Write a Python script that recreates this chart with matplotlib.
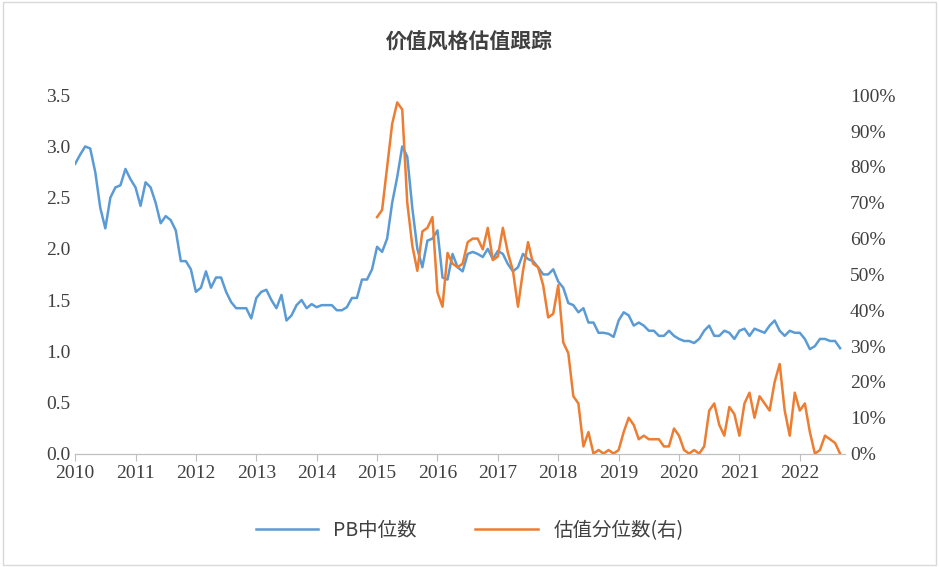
import numpy as np
import pandas as pd
import matplotlib.pyplot as plt
from matplotlib.ticker import FuncFormatter

plt.rcParams['font.family'] = ['Noto Sans CJK SC', 'Noto Sans CJK JP', 'Noto Sans CJK TC',
                               'Noto Sans CJK KR', 'DejaVu Sans']

pb = [2.83, 2.92, 3.0, 2.98, 2.75, 2.4, 2.2, 2.5, 2.6, 2.62, 2.78, 2.68,
      2.6, 2.42, 2.65, 2.6, 2.45, 2.25, 2.32, 2.28, 2.18, 1.88, 1.88, 1.8,
      1.58, 1.62, 1.78, 1.62, 1.72, 1.72, 1.58, 1.48, 1.42, 1.42, 1.42, 1.32,
      1.52, 1.58, 1.6, 1.5, 1.42, 1.55, 1.3, 1.35, 1.45, 1.5, 1.42, 1.46,
      1.43, 1.45, 1.45, 1.45, 1.4, 1.4, 1.43, 1.52, 1.52, 1.7, 1.7, 1.8,
      2.02, 1.97, 2.1, 2.45, 2.7, 3.0, 2.9, 2.4, 2.0, 1.82, 2.08, 2.1,
      2.18, 1.72, 1.7, 1.95, 1.82, 1.78, 1.95, 1.97, 1.95, 1.92, 2.0, 1.9,
      1.98, 1.95, 1.85, 1.78, 1.82, 1.95, 1.9, 1.88, 1.82, 1.75, 1.75, 1.8,
      1.68, 1.62, 1.47, 1.45, 1.38, 1.42, 1.28, 1.28, 1.18, 1.18, 1.17, 1.14,
      1.3, 1.38, 1.35, 1.25, 1.28, 1.25, 1.2, 1.2, 1.15, 1.15, 1.2, 1.15,
      1.12, 1.1, 1.1, 1.08, 1.12, 1.2, 1.25, 1.15, 1.15, 1.2, 1.18, 1.12,
      1.2, 1.22, 1.15, 1.22, 1.2, 1.18, 1.25, 1.3, 1.2, 1.15, 1.2, 1.18,
      1.18, 1.12, 1.02, 1.05, 1.12, 1.12, 1.1, 1.1, 1.03]

pct = [66, 68, 80, 92, 98, 96, 70, 58, 51, 62, 63, 66,
       45, 41, 56, 53, 52, 53, 59, 60, 60, 57, 63, 54,
       55, 63, 56, 51, 41, 51, 59, 53, 52, 47, 38, 39,
       47, 31, 28, 16, 14, 2, 6, 0, 1, 0, 1, 0,
       1, 6, 10, 8, 4, 5, 4, 4, 4, 2, 2, 7,
       5, 1, 0, 1, 0, 2, 12, 14, 8, 5, 13, 11,
       5, 14, 17, 10, 16, 14, 12, 20, 25, 12, 5, 17,
       12, 14, 6, 0, 1, 5, 4, 3, 0]

years = list(range(2010, 2023))

x_pb = 2010 + np.arange(len(pb)) / 12
x_pct = 2015 + np.arange(len(pct)) / 12

serif = 'Liberation Serif'

fig = plt.figure(figsize=(9.39, 5.67), dpi=100)
ax = fig.add_axes([0.08, 0.2, 0.82, 0.632])
ax.plot(x_pb, pb, color='#5B9BD5', linewidth=1.8)
ax.set_ylim(0, 3.5)
ax.set_yticks(np.arange(0, 3.51, 0.5))
ax.yaxis.set_major_formatter(FuncFormatter(lambda v, p: '%.1f' % v))
ax.set_xlim(2010, 2022.75)
ax.set_xticks(years)
ax.set_xticklabels([str(y) for y in years])

ax2 = ax.twinx()
ax2.plot(x_pct, pct, color='#ED7D31', linewidth=1.8)
ax2.set_ylim(0, 100)
ax2.set_yticks(range(0, 101, 10))
ax2.yaxis.set_major_formatter(FuncFormatter(lambda v, p: '%d%%' % v))

for a in (ax, ax2):
    for s in ('top', 'left', 'right'):
        a.spines[s].set_visible(False)
    a.spines['bottom'].set_color('#BFBFBF')
    a.tick_params(axis='y', length=0, labelsize=14, labelcolor='#404040')
    for lab in a.get_yticklabels():
        lab.set_fontfamily(serif)
ax.tick_params(axis='x', length=5, color='#BFBFBF', labelsize=14, labelcolor='#404040')
for lab in ax.get_xticklabels():
    lab.set_fontfamily(serif)

fig.text(0.5, 0.925, '价值风格估值跟踪', ha='center', va='center',
         fontsize=15, fontweight='bold', color='#404040')

l1, = ax.plot([], [], color='#5B9BD5', linewidth=1.8)
l2, = ax.plot([], [], color='#ED7D31', linewidth=1.8)
leg = fig.legend([l1, l2], ['PB中位数', '估值分位数(右)'], loc='center',
                 bbox_to_anchor=(0.5, 0.065), ncol=2, frameon=False,
                 fontsize=14, handlelength=3.2, columnspacing=3)
for t in leg.get_texts():
    t.set_color('#404040')

fig.patches.append(plt.Rectangle((0.003, 0.004), 0.994, 0.992, transform=fig.transFigure,
                                 fill=False, edgecolor='#D9D9D9', linewidth=1))
plt.savefig('out.png')
